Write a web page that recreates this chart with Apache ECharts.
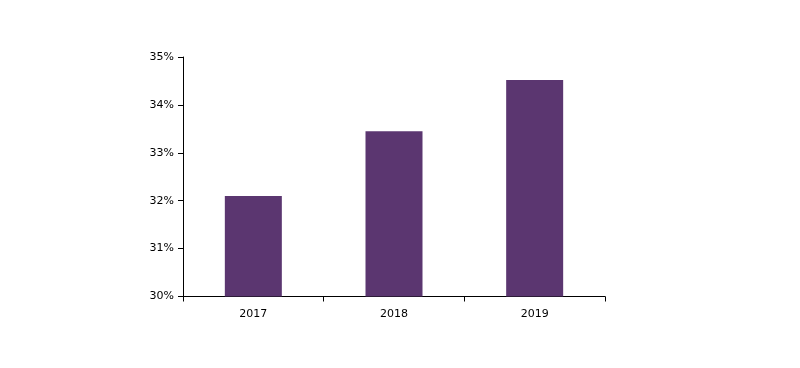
<!DOCTYPE html>
<html><head><meta charset="utf-8">
<script src="https://cdn.jsdelivr.net/npm/echarts@6/dist/echarts.min.js"></script>
<style>html,body{margin:0;padding:0;background:#fff}#c{width:800px;height:368px}</style>
</head><body><div id="c"></div>
<script>
const categories = ['2017', '2018', '2019'];
const values = [32.1, 33.45, 34.52];
const chart = echarts.init(document.getElementById('c'), null, {renderer: 'canvas'});
chart.setOption({
  animation: false,
  grid: {left: 183, right: 195, top: 57, bottom: 71.5, containLabel: false},
  xAxis: {
    type: 'category', data: categories,
    axisLine: {lineStyle: {color: '#000', width: 1}},
    axisTick: {show: true, alignWithLabel: false, length: 5, lineStyle: {color: '#000'}},
    axisLabel: {color: '#000', fontFamily: 'DejaVu Sans', fontSize: 11, margin: 12}
  },
  yAxis: {
    type: 'value', min: 30, max: 35, interval: 1,
    axisLine: {show: true, lineStyle: {color: '#000', width: 1}},
    axisTick: {show: true, length: 5, lineStyle: {color: '#000'}},
    splitLine: {show: false},
    axisLabel: {color: '#000', fontFamily: 'DejaVu Sans', fontSize: 11, margin: 9, formatter: v => v + '%'}
  },
  series: [{
    type: 'bar', data: values, barWidth: 57,
    itemStyle: {color: '#5b3670'}
  }]
});
</script></body></html>
